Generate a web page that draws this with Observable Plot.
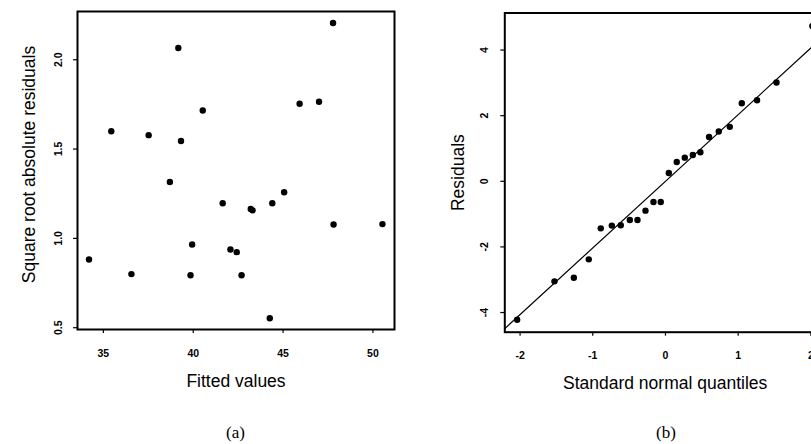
<!DOCTYPE html>
<html>
<head>
<meta charset="utf-8">
<script src="https://cdn.jsdelivr.net/npm/d3@7"></script>
<script src="https://cdn.jsdelivr.net/npm/@observablehq/plot@0.6"></script>
<style>
  html, body { margin: 0; padding: 0; background: white; }
  #wrap { position: relative; width: 811px; height: 444px; overflow: hidden; background: white; }
  .panel { position: absolute; top: 0; }
  .panel svg { max-width: none !important; display: block; }
  .cap { position: absolute; width: 100px; text-align: center; font-family: 'Liberation Serif', 'Times New Roman', serif; font-size: 17px; line-height: 17px; color: black; }
</style>
</head>
<body>
<div id="wrap">
  <div id="pa" class="panel" style="left:0px;width:400px;"></div>
  <div id="pb" class="panel" style="left:400px;width:430px;"></div>
  <div class="cap" style="left:185.5px;top:424px;">(a)</div>
  <div class="cap" style="left:616px;top:424px;">(b)</div>
</div>
<script>
// Panel (a): fitted values vs square root absolute residuals
const fittedA = [34.2, 36.56, 35.44, 37.52, 38.7, 39.17, 39.32, 40.53, 41.64, 43.2, 43.3, 44.4,
                 45.06, 45.92, 47.0, 47.78, 47.81, 50.53, 39.94, 42.07, 42.42, 39.85, 42.69, 44.26];
const sqrtResA = [0.882, 0.80, 1.60, 1.578, 1.316, 2.066, 1.545, 1.716, 1.197, 1.165, 1.157, 1.197,
                  1.258, 1.754, 1.765, 2.206, 1.078, 1.08, 0.966, 0.938, 0.923, 0.794, 0.794, 0.553];
const xTicksA = [35, 40, 45, 50];
const yTicksA = [0.5, 1.0, 1.5, 2.0];

// Panel (b): normal QQ plot of residuals
const quantB = [-2.04, -1.527, -1.26, -1.055, -0.89, -0.738, -0.615, -0.49, -0.385, -0.275, -0.165, -0.065,
                0.046, 0.155, 0.266, 0.376, 0.48, 0.6, 0.733, 0.885, 1.05, 1.26, 1.527, 2.02];
const residB = [-4.22, -3.05, -2.94, -2.38, -1.435, -1.35, -1.34, -1.18, -1.18, -0.895, -0.63, -0.63,
                0.254, 0.59, 0.72, 0.80, 0.885, 1.35, 1.52, 1.66, 2.38, 2.47, 3.01, 4.73];
const qqLineX = [-2.21, 2.2];
const qqLineY = [-4.49, 4.47];
const xTicksB = [-2, -1, 0, 1, 2];
const yTicksB = [-4, -2, 0, 2, 4];

const fontFamily = "'Liberation Sans', Arial, Helvetica, sans-serif";
const baseStyle = {fontFamily, fontSize: "12px", color: "black", background: "white", maxWidth: "none", overflow: "visible"};

const ptsA = fittedA.map((x, i) => ({x, y: sqrtResA[i]}));
const ptsB = quantB.map((x, i) => ({x, y: residB[i]}));
const lineB = qqLineX.map((x, i) => ({x, y: qqLineY[i]}));
const f1 = d3.format(".1f");

const plotA = Plot.plot({
  width: 400, height: 400,
  marginLeft: 77, marginRight: 6, marginTop: 11, marginBottom: 71,
  x: {domain: [33.56, 51.2]},
  y: {domain: [0.49, 2.27]},
  style: baseStyle,
  marks: [
    Plot.axisX(xTicksA, {tickSize: 4, tickPadding: 16.5, fontSize: 10.5, fontWeight: "bold", label: null, strokeWidth: 1.2}),
    Plot.axisY(yTicksA, {tickSize: 4, tickFormat: () => "", label: null, strokeWidth: 1.2}),
    Plot.text(yTicksA, {y: d => d, text: d => f1(d), frameAnchor: "left", rotate: -90,
      textAnchor: "middle", lineAnchor: "bottom", dx: -15.5, fontSize: 10.5, fontWeight: "bold"}),
    Plot.frame({stroke: "black", strokeWidth: 2}),
    Plot.dot(ptsA, {x: "x", y: "y", r: 3.2, fill: "black", stroke: "none"}),
    Plot.text(["Fitted values"], {text: d => d, frameAnchor: "bottom", dy: 52, lineAnchor: "middle", fontSize: 17.5}),
    Plot.text(["Square root absolute residuals"], {text: d => d, frameAnchor: "left", rotate: -90,
      textAnchor: "middle", lineAnchor: "middle", dx: -48, dy: -6, fontSize: 17.5})
  ]
});
document.getElementById("pa").appendChild(plotA);

const plotB = Plot.plot({
  width: 430, height: 400,
  marginLeft: 104.3, marginRight: 5.1, marginTop: 12.5, marginBottom: 68.3,
  x: {domain: [-2.21, 2.2]},
  y: {domain: [-4.6, 5.13]},
  style: baseStyle,
  marks: [
    Plot.axisX(xTicksB, {tickSize: 4, tickPadding: 15.5, fontSize: 10.5, fontWeight: "bold", label: null, strokeWidth: 1.2, tickFormat: d => String(d)}),
    Plot.axisY(yTicksB, {tickSize: 4, tickFormat: () => "", label: null, strokeWidth: 1.2}),
    Plot.text(yTicksB, {y: d => d, text: d => String(d), frameAnchor: "left", rotate: -90,
      textAnchor: "middle", lineAnchor: "bottom", dx: -17, fontSize: 10.5, fontWeight: "bold"}),
    Plot.frame({stroke: "black", strokeWidth: 2}),
    Plot.line(lineB, {x: "x", y: "y", stroke: "black", strokeWidth: 1.2, clip: true}),
    Plot.dot(ptsB, {x: "x", y: "y", r: 3.2, fill: "black", stroke: "none"}),
    Plot.text(["Standard normal quantiles"], {text: d => d, frameAnchor: "bottom", dy: 50.7, lineAnchor: "middle", fontSize: 17.5}),
    Plot.text(["Residuals"], {text: d => d, frameAnchor: "left", rotate: -90,
      textAnchor: "middle", lineAnchor: "middle", dx: -46.8, dy: 0, fontSize: 17.5})
  ]
});
document.getElementById("pb").appendChild(plotB);
</script>
</body>
</html>
